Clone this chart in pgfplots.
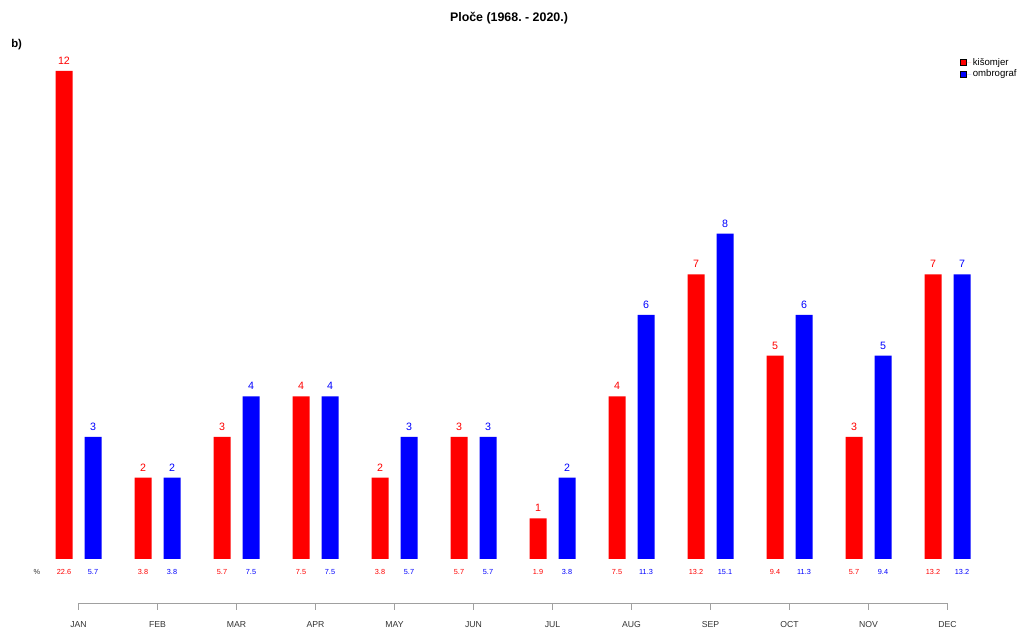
\documentclass[border=0pt]{standalone}
\usepackage{pgfplots}
\usepackage{pgfplotstable}
\usepackage{fontspec}
\setmainfont{Liberation Sans}
\pgfplotsset{compat=1.18}

\pgfplotstableread{
x mon k  o  pk   po
1  JAN 12 3  22.6 5.7
2  FEB 2  2  3.8  3.8
3  MAR 3  4  5.7  7.5
4  APR 4  4  7.5  7.5
5  MAY 2  3  3.8  5.7
6  JUN 3  3  5.7  5.7
7  JUL 1  2  1.9  3.8
8  AUG 4  6  7.5  11.3
9  SEP 7  8  13.2 15.1
10 OCT 5  6  9.4  11.3
11 NOV 3  5  5.7  9.4
12 DEC 7  7  13.2 13.2
}\ploce

\definecolor{axisgray}{HTML}{A0A0A0}
\definecolor{labgray}{HTML}{333333}

\begin{document}
\begin{tikzpicture}
    \path[use as bounding box] (0,0) rectangle (763.5pt,471pt);

    \begin{axis}[
        scale only axis,
        width            = 763.5pt,
        height           = 471pt,
        xmin             = 0.00633,
        xmax             = 12.8924,
        ymin             = -1.6966,
        ymax             = 13.745,
        hide axis,
        clip             = false,
        /pgf/number format/assume math mode = true,
        legend style     = {at={(axis cs:12.158,12.36)}, anchor=north west, draw=none, fill=none,
                            inner sep=0pt, font=\fontsize{7.2}{8}\selectfont,
                            legend cell align=left, row sep=0pt,
                            nodes={inner sep=1.1pt}},
        legend image code/.code={
            \draw[#1,/tikz/.cd,draw=black,line width=0.3pt] (0pt,-2.2pt) rectangle (4.6pt,2.2pt);
            \path (0pt,0pt) -- (8.2pt,0pt);},
    ]

        % bars
        \addplot[ybar, bar width=12.75pt, bar shift=-10.875pt, fill=red, draw=none,
            nodes near coords,
            every node near coord/.append style={font=\fontsize{8}{9}\selectfont, text=red, anchor=south, inner sep=0pt, yshift=4.6pt, xshift=-10.875pt}]
            table[x=x, y=k] {\ploce};
        \addlegendentry{kišomjer}

        \addplot[ybar, bar width=12.75pt, bar shift=10.875pt, fill=blue, draw=none,
            nodes near coords,
            every node near coord/.append style={font=\fontsize{8}{9}\selectfont, text=blue, anchor=south, inner sep=0pt, yshift=4.6pt, xshift=10.875pt}]
            table[x=x, y=o] {\ploce};
        \addlegendentry{ombrograf}

        % percentage row
        \addplot[draw=none, mark=none, forget plot,
            nodes near coords, point meta=explicit symbolic,
            every node near coord/.append style={font=\fontsize{5.5}{6}\selectfont, text=red, anchor=center, inner sep=0pt, xshift=-10.875pt}]
            table[x=x, y expr=-0.32, meta=pk] {\ploce};
        \addplot[draw=none, mark=none, forget plot,
            nodes near coords, point meta=explicit symbolic,
            every node near coord/.append style={font=\fontsize{5.5}{6}\selectfont, text=blue, anchor=center, inner sep=0pt, xshift=10.875pt}]
            table[x=x, y expr=-0.32, meta=po] {\ploce};
        \node[font=\fontsize{5.5}{6}\selectfont, text=labgray] at (axis cs:0.4747,-0.32) {\%};

        % month axis
        \draw[axisgray, line width=0.6pt] (axis cs:1,-1.082) -- (axis cs:12,-1.082);
        \pgfplotsinvokeforeach{1,...,12}{
            \draw[axisgray, line width=0.6pt] (axis cs:#1,-1.082) -- (axis cs:#1,-1.254);
        }
        \addplot[draw=none, mark=none, forget plot,
            nodes near coords, point meta=explicit symbolic,
            every node near coord/.append style={font=\fontsize{6.5}{7}\selectfont, text=labgray, anchor=center, inner sep=0pt}]
            table[x=x, y expr=-1.60, meta=mon] {\ploce};

        % titles
        \node[font=\fontsize{9.3}{11}\selectfont\bfseries\frenchspacing] at (axis cs:6.449,13.30) {Ploče (1968. - 2020.)};
        \node[font=\fontsize{8.5}{10}\selectfont\bfseries, anchor=west, inner sep=0pt] at (axis cs:0.1456,12.64) {b)};
    \end{axis}
\end{tikzpicture}
\end{document}
